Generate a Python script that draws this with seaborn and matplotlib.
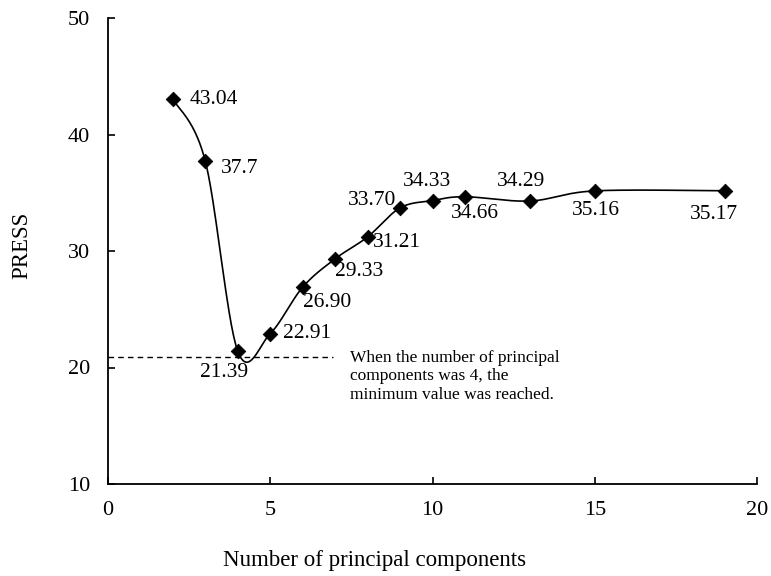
import numpy as np
import pandas as pd
import matplotlib
matplotlib.use("Agg")
import matplotlib.pyplot as plt
import seaborn as sns

# ---- data ----
n_components = [2, 3, 4, 5, 6, 7, 8, 9, 10, 11, 13, 15, 19]
press = [43.04, 37.7, 21.39, 22.91, 26.90, 29.33, 31.21, 33.70, 34.33, 34.66, 34.29, 35.16, 35.17]
point_labels = ["43.04", "37.7", "21.39", "22.91", "26.90", "29.33", "31.21",
                "33.70", "34.33", "34.66", "34.29", "35.16", "35.17"]
x_ticks = [0, 5, 10, 15, 20]
y_ticks = [10, 20, 30, 40, 50]
min_line_level = 20.9
note = "When the number of principal\ncomponents was 4, the\nminimum value was reached."

# label placement (offset in points, ha)
label_pos = [
    ((12, 0), "left"),
    ((11, -5), "left"),
    ((-10, -15), "center"),
    ((9, 0), "left"),
    ((0, -11), "left"),
    ((0, -9), "left"),
    ((4, -4), "left"),
    ((-3, 5), "right"),
    ((-4, 14), "center"),
    ((7, -12), "center"),
    ((-6.5, 14), "center"),
    ((0.5, -14), "center"),
    ((-8, -17), "center"),
]


def catmull_rom(xs, ys, n=30):
    xs = np.asarray(xs, float)
    ys = np.asarray(ys, float)
    P = np.column_stack([xs, ys])
    P = np.vstack([P[0], P, P[-1]])
    out = []
    for i in range(1, len(P) - 2):
        p0, p1, p2, p3 = P[i - 1], P[i], P[i + 1], P[i + 2]
        c1 = p1 + (p2 - p0) / 6.0
        c2 = p2 - (p3 - p1) / 6.0
        t = np.linspace(0, 1, n, endpoint=(i == len(P) - 3))[:, None]
        seg = ((1 - t) ** 3) * p1 + 3 * ((1 - t) ** 2) * t * c1 + 3 * (1 - t) * t ** 2 * c2 + t ** 3 * p2
        out.append(seg)
    out = np.vstack(out)
    return out[:, 0], out[:, 1]


sns.set_theme(style="white")
plt.rcParams["font.family"] = ["Liberation Serif", "DejaVu Serif"]

fig = plt.figure(figsize=(7.71, 5.76), dpi=100)
ax = fig.add_axes([108 / 771, 1 - 484 / 576, 649 / 771, 466 / 576])

sx, sy = catmull_rom(n_components, press)
curve = pd.DataFrame({"x": sx, "y": sy})
pts = pd.DataFrame({"x": n_components, "y": press})

sns.lineplot(data=curve, x="x", y="y", sort=False, color="black", lw=1.2, ax=ax)
sns.scatterplot(data=pts, x="x", y="y", marker="D", s=55, color="black",
                edgecolor="black", zorder=3, ax=ax)

ax.plot([0, 6.93], [min_line_level, min_line_level], ls=(0, (4, 3)), color="black", lw=1)
ax.text(7.45, min_line_level + 0.6, note, fontsize=12.5, va="top", ha="left",
        linespacing=1.2, color="black")

for xv, yv, lab, (off, ha) in zip(n_components, press, point_labels, label_pos):
    ax.annotate(lab, (xv, yv), xytext=off, textcoords="offset points",
                ha=ha, va="center", fontsize=15.5, color="black")

ax.set_xlim(0, 20)
ax.set_ylim(10, 50)
ax.set_xticks(x_ticks)
ax.set_yticks(y_ticks)
ax.tick_params(direction="in", length=5, width=1.2, colors="black", labelsize=16,
               bottom=True, left=True)
ax.tick_params(axis="y", pad=13)
ax.tick_params(axis="x", pad=12)
for s in ["top", "right"]:
    ax.spines[s].set_visible(False)
for s in ["left", "bottom"]:
    ax.spines[s].set_color("black")
    ax.spines[s].set_linewidth(1.3)

ax.set_xlabel("Number of principal components", fontsize=16.5, color="black")
ax.set_ylabel("PRESS", fontsize=16.5, color="black")
ax.xaxis.set_label_coords(0.41, -0.141)
ax.yaxis.set_label_coords(-0.117, 0.513)
ax.grid(False)

fig.savefig("out.png", dpi=100)
